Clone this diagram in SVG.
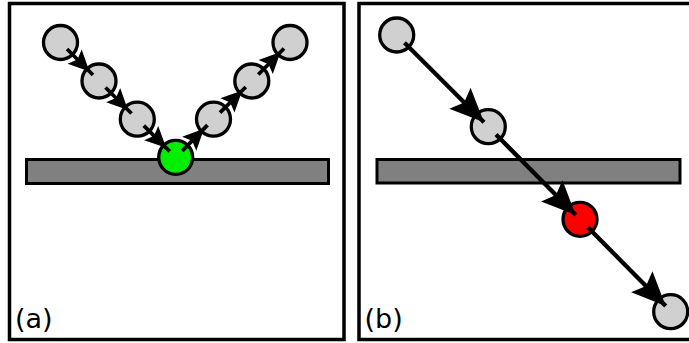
<svg xmlns="http://www.w3.org/2000/svg" width="689" height="343" viewBox="0 0 689 343">
<defs>
<style>
.frame{fill:#fff;stroke:#000;stroke-width:3.5}
.bar{fill:#808080;stroke:#000;stroke-width:3}
.p{fill:#d0d0d0;stroke:#000;stroke-width:3.3}
.conn{stroke:#000;fill:none}
.sm{stroke-width:3.8;marker-end:url(#headS)}
.lg{stroke-width:4.3;marker-end:url(#headL)}
.lbl{font-family:"DejaVu Sans",sans-serif;font-size:27px;fill:#000}
</style>
<marker id="headS" markerUnits="userSpaceOnUse" refX="5" refY="0" markerWidth="1" markerHeight="1" orient="auto" overflow="visible">
<path d="M0,0 L-21,-10 L-17,0 L-21,10 Z" fill="#000"/>
</marker>
<marker id="headL" markerUnits="userSpaceOnUse" refX="0" refY="0" markerWidth="1" markerHeight="1" orient="auto" overflow="visible">
<path d="M0,0 L-34,-15 L-28,0 L-34,15 Z" fill="#000"/>
</marker>
</defs>
<rect id="panel-a" class="frame" x="9.5" y="3.5" width="334.5" height="336"/>
<rect id="panel-b" class="frame" x="359" y="3.5" width="340" height="336"/>
<g id="surface-a"><rect class="bar" x="26.5" y="159.5" width="302" height="24"/></g>
<g id="surface-b"><rect class="bar" x="377" y="159.5" width="303" height="23.5"/></g>
<g id="a1"><circle class="p" cx="60.5" cy="42.5" r="17"/></g>
<g id="a2"><circle class="p" cx="99" cy="81" r="17"/></g>
<g id="a3"><circle class="p" cx="137.3" cy="119.2" r="17"/></g>
<g id="a4"><circle cx="175.7" cy="157.3" r="17" fill="#00ee00" stroke="#000" stroke-width="3.3"/></g>
<g id="a5"><circle class="p" cx="213.5" cy="119.2" r="17"/></g>
<g id="a6"><circle class="p" cx="251.8" cy="81" r="17"/></g>
<g id="a7"><circle class="p" cx="290" cy="42.5" r="17"/></g>
<g id="b1"><circle class="p" cx="396.7" cy="35" r="17"/></g>
<g id="b2"><circle class="p" cx="488.3" cy="126.7" r="17"/></g>
<g id="b3"><circle cx="580" cy="219.3" r="17" fill="#ff0000" stroke="#000" stroke-width="3.3"/></g>
<g id="b4"><circle class="p" cx="670.7" cy="311.7" r="17"/></g>
<g id="connectors" class="conn">
<line class="sm" x1="67" y1="49" x2="93" y2="75"/>
<line class="sm" x1="105.5" y1="87.5" x2="131.5" y2="113.5"/>
<line class="sm" x1="143.8" y1="125.7" x2="169.7" y2="151.3"/>
<line class="sm" x1="182.2" y1="150.8" x2="207.5" y2="125.2"/>
<line class="sm" x1="220" y1="112.7" x2="245.8" y2="87"/>
<line class="sm" x1="258.3" y1="74.5" x2="284" y2="48.5"/>
<line class="lg" x1="404.5" y1="42.8" x2="484" y2="122.3"/>
<line class="lg" x1="496" y1="134.5" x2="575.7" y2="215"/>
<line class="lg" x1="587.8" y1="227.2" x2="665.7" y2="306"/>
</g>
<text class="lbl" x="15" y="328">(a)</text>
<text class="lbl" x="364.5" y="328">(b)</text>
</svg>
